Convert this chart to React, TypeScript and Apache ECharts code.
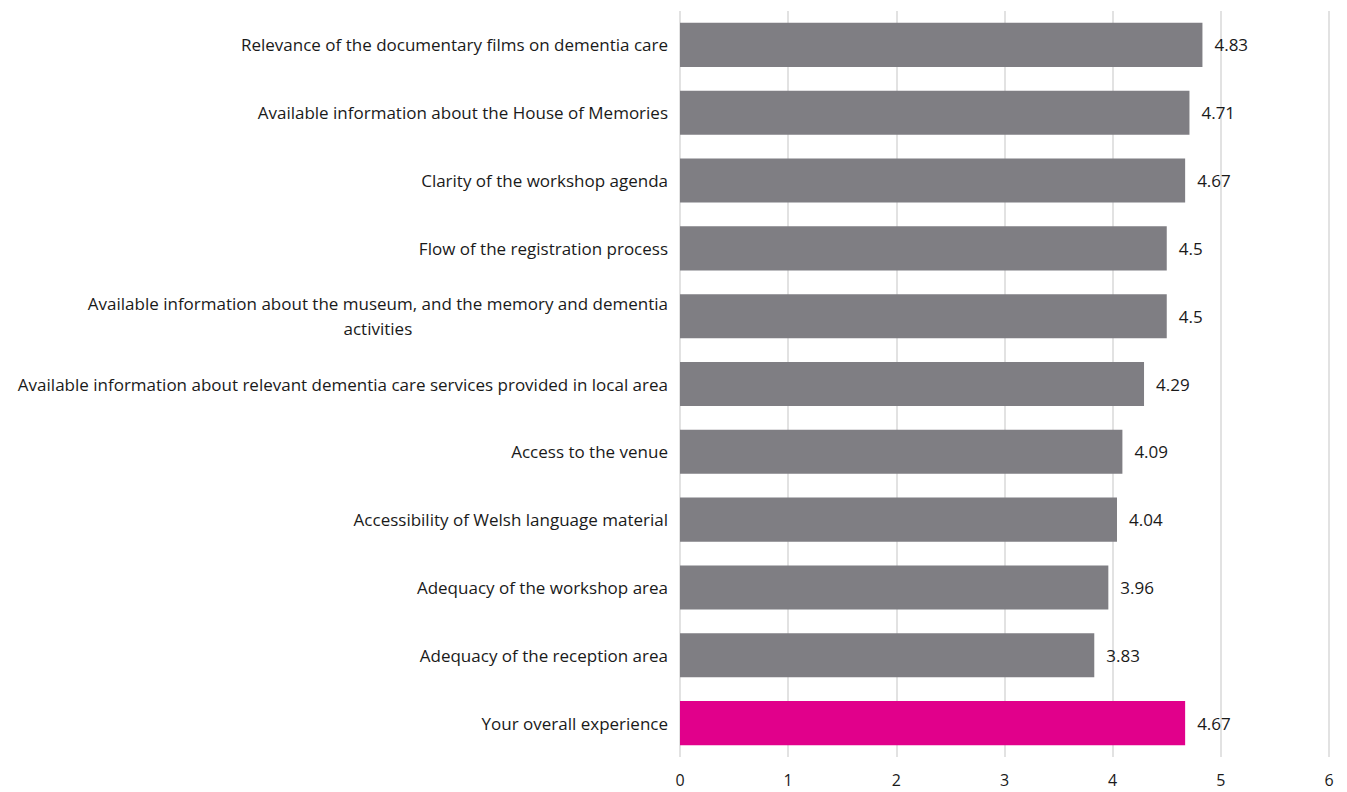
import React, { useEffect, useRef } from "react";
import * as echarts from "echarts";

const categories = [
  "Relevance of the documentary films on dementia care",
  "Available information about the House of Memories",
  "Clarity of the workshop agenda",
  "Flow of the registration process",
  "Available information about the museum, and the memory and dementia\nactivities",
  "Available information about relevant dementia care services provided in local area",
  "Access to the venue",
  "Accessibility of Welsh language material",
  "Adequacy of the workshop area",
  "Adequacy of the reception area",
  "Your overall experience",
];
const values = [4.83, 4.71, 4.67, 4.5, 4.5, 4.29, 4.09, 4.04, 3.96, 3.83, 4.67];
const highlightIndex = 10;
const xTicks = [0, 1, 2, 3, 4, 5, 6];

const FONT = "'Open Sans', 'Noto Sans', sans-serif";
const FS = 17;

export default function App() {
  const ref = useRef<HTMLDivElement>(null);
  useEffect(() => {
    if (!ref.current) return;
    const chart = echarts.init(ref.current, undefined, { renderer: "svg" });
    chart.setOption({
      animation: false,
      grid: { left: 680, right: 18, top: 11, bottom: 35, containLabel: false },
      xAxis: {
        type: "value",
        min: xTicks[0],
        max: xTicks[xTicks.length - 1],
        interval: 1,
        axisLine: { show: false },
        axisTick: { show: false },
        splitLine: { show: true, lineStyle: { color: "#d9d9d9", width: 1.5 } },
        axisLabel: { color: "#1a1a1a", fontFamily: FONT, fontSize: 16, margin: 15 },
      },
      yAxis: {
        type: "category",
        inverse: true,
        data: categories,
        axisLine: { show: false },
        axisTick: { show: false },
        axisLabel: {
          interval: 0,
          margin: 12,
          formatter: (v: string) => "{c|" + v + "}",
          rich: {
            c: {
              align: "center",
              color: "#1a1a1a",
              fontFamily: FONT,
              fontSize: FS,
              lineHeight: 25,
            },
          },
        },
      },
      series: [
        {
          type: "bar",
          data: values.map((v, i) => ({
            value: v,
            itemStyle: { color: i === highlightIndex ? "#e1008b" : "#7f7e83" },
          })),
          barCategoryGap: "35%",
          label: {
            show: true,
            position: "right",
            distance: 12,
            color: "#1a1a1a",
            fontFamily: FONT,
            fontSize: FS,
          },
        },
      ],
    });
    return () => chart.dispose();
  }, []);
  return <div ref={ref} style={{ width: 1347, height: 792, position: "absolute", left: 0, top: 0 }} />;
}
